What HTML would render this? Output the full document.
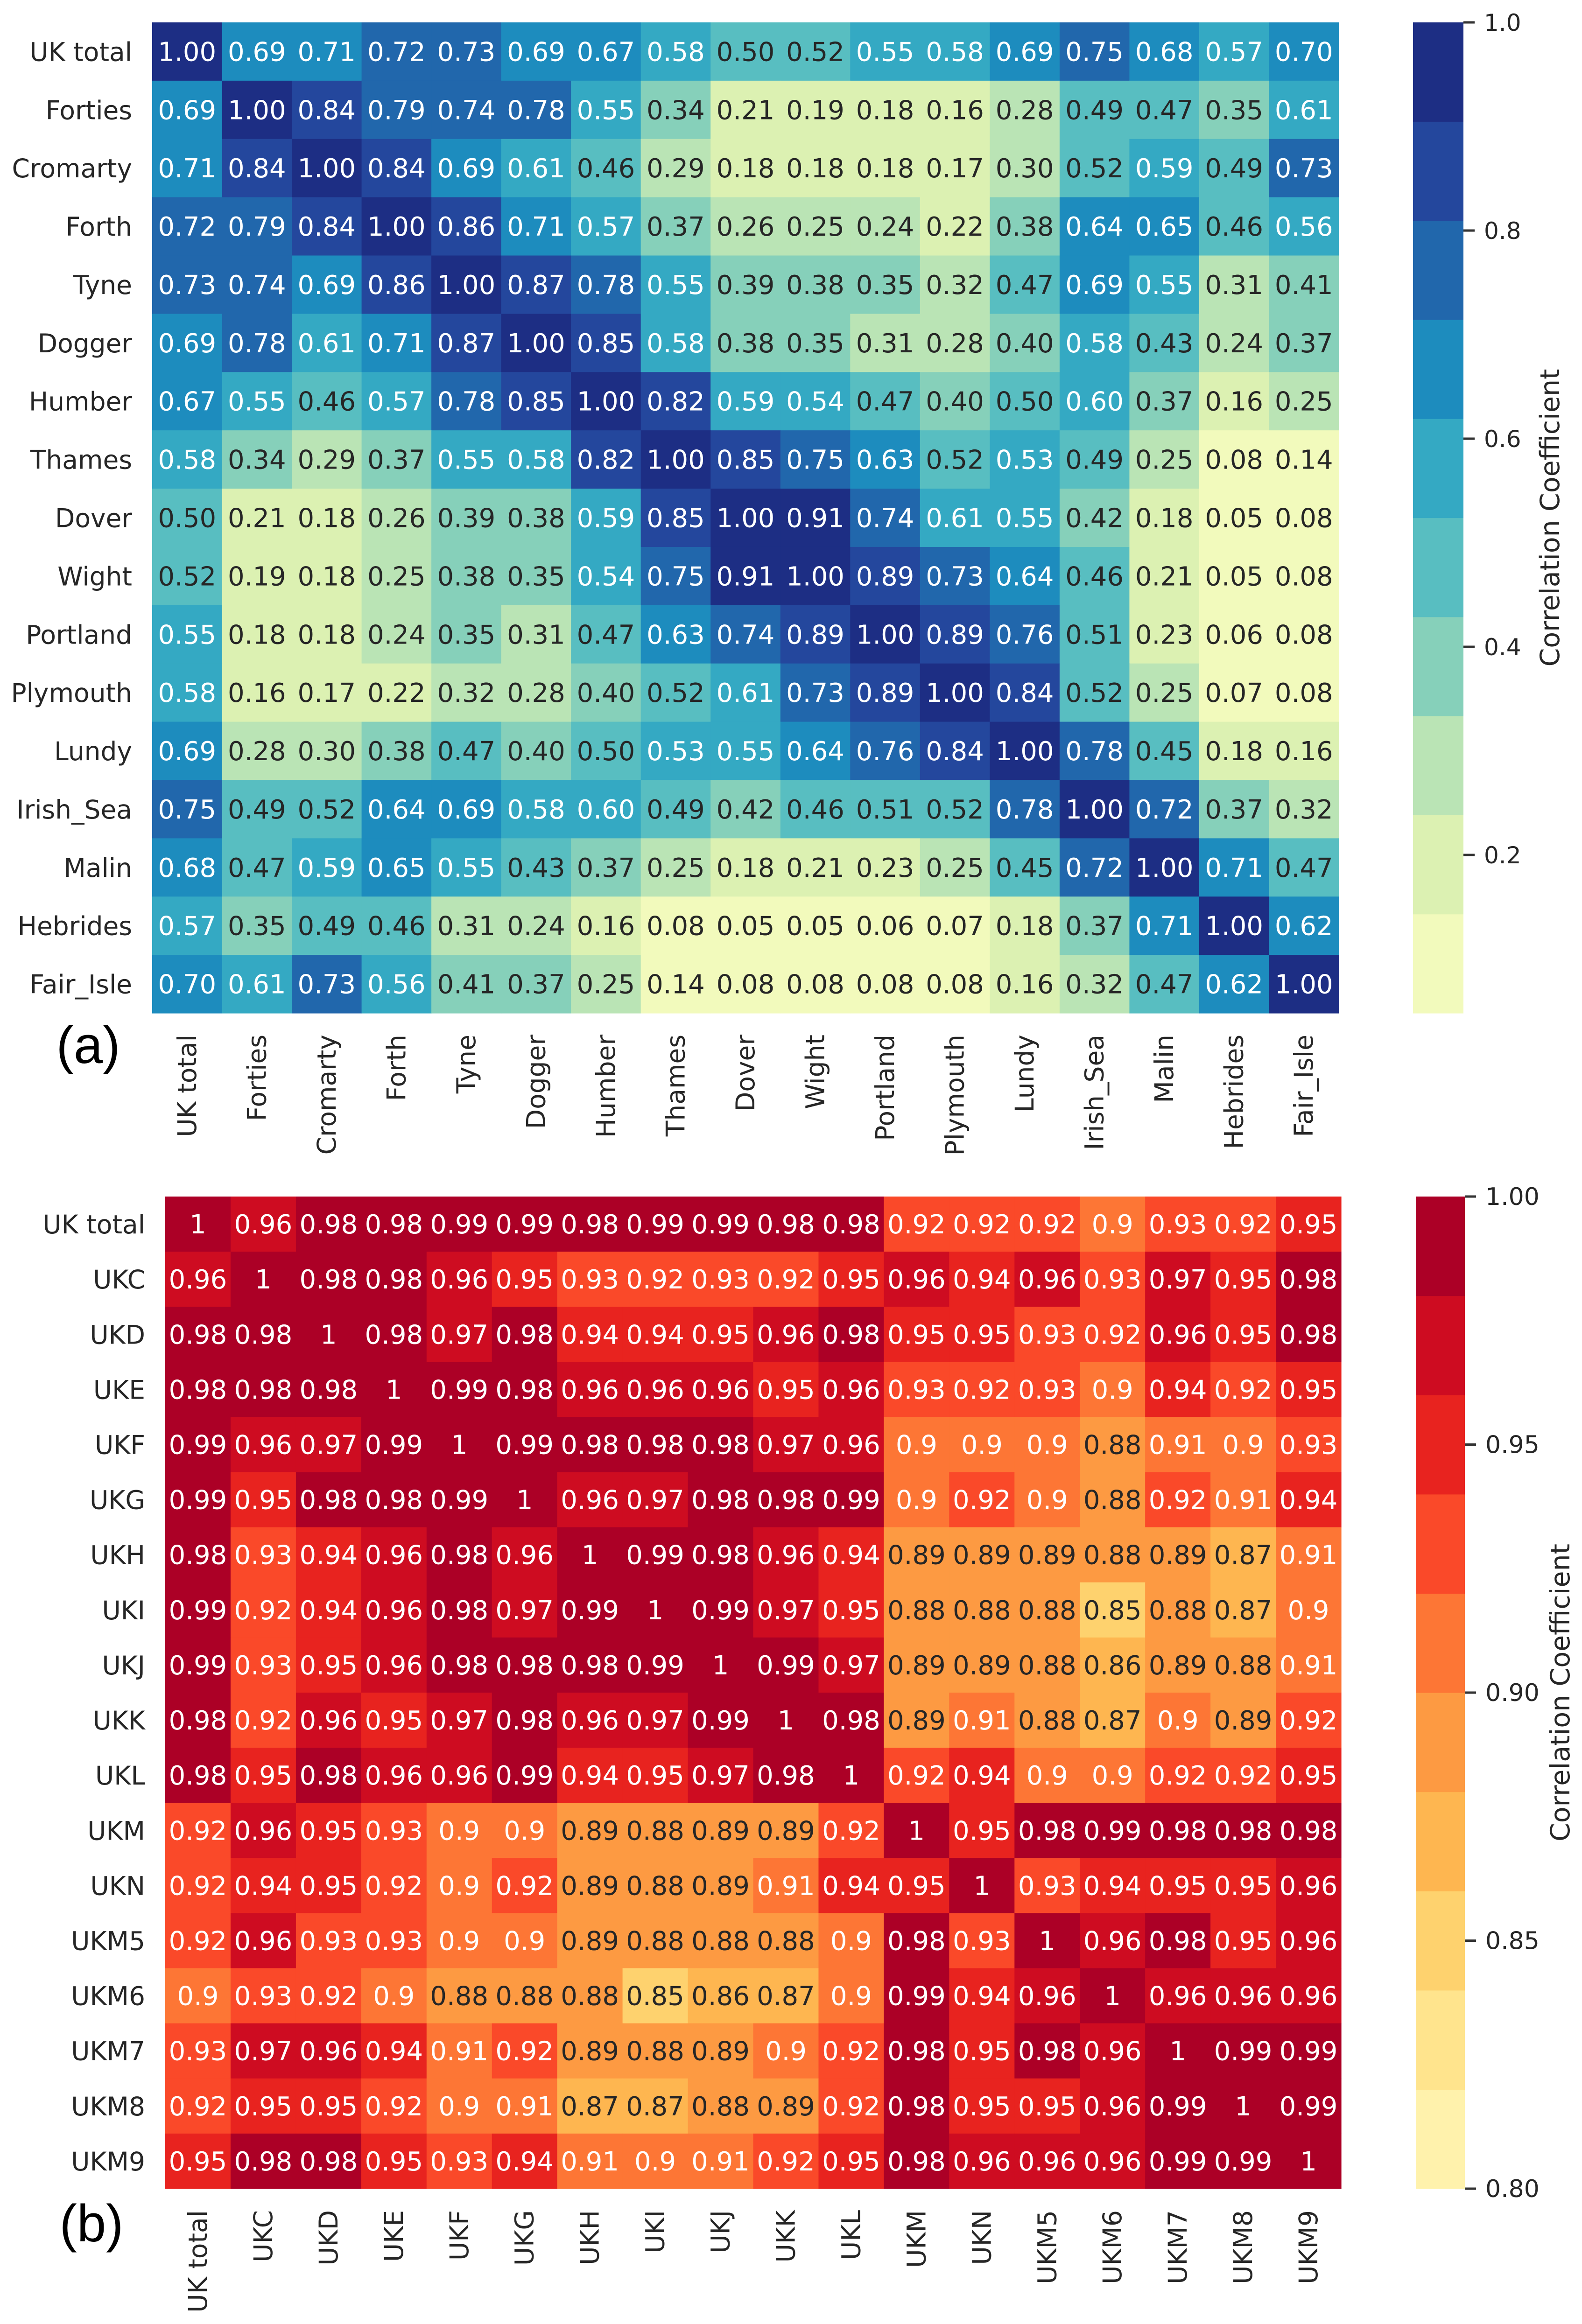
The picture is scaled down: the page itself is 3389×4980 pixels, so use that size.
<!DOCTYPE html>
<html><head><meta charset="utf-8">
<style>
html,body{margin:0;padding:0;background:#fff;}
svg{display:block;}
text{font-family:"DejaVu Sans","Liberation Sans",sans-serif;}
</style></head>
<body>
<svg id="fig" width="3389" height="4980" viewBox="0 0 3389 4980" xmlns="http://www.w3.org/2000/svg">
<rect width="3389" height="4980" fill="#fff"/>
<g id="panelA"></g>
<g id="panelB"></g>
<text x="189" y="2278" font-size="112" text-anchor="middle" fill="#000" style="font-family:'Liberation Sans',sans-serif">(a)</text>
<text x="196" y="4803" font-size="112" text-anchor="middle" fill="#000" style="font-family:'Liberation Sans',sans-serif">(b)</text>
</svg>
<script>
const labelsA = ["UK total","Forties","Cromarty","Forth","Tyne","Dogger","Humber","Thames","Dover","Wight","Portland","Plymouth","Lundy","Irish_Sea","Malin","Hebrides","Fair_Isle"];
const valuesA = [
[1.00,0.69,0.71,0.72,0.73,0.69,0.67,0.58,0.50,0.52,0.55,0.58,0.69,0.75,0.68,0.57,0.70],
[0.69,1.00,0.84,0.79,0.74,0.78,0.55,0.34,0.21,0.19,0.18,0.16,0.28,0.49,0.47,0.35,0.61],
[0.71,0.84,1.00,0.84,0.69,0.61,0.46,0.29,0.18,0.18,0.18,0.17,0.30,0.52,0.59,0.49,0.73],
[0.72,0.79,0.84,1.00,0.86,0.71,0.57,0.37,0.26,0.25,0.24,0.22,0.38,0.64,0.65,0.46,0.56],
[0.73,0.74,0.69,0.86,1.00,0.87,0.78,0.55,0.39,0.38,0.35,0.32,0.47,0.69,0.55,0.31,0.41],
[0.69,0.78,0.61,0.71,0.87,1.00,0.85,0.58,0.38,0.35,0.31,0.28,0.40,0.58,0.43,0.24,0.37],
[0.67,0.55,0.46,0.57,0.78,0.85,1.00,0.82,0.59,0.54,0.47,0.40,0.50,0.60,0.37,0.16,0.25],
[0.58,0.34,0.29,0.37,0.55,0.58,0.82,1.00,0.85,0.75,0.63,0.52,0.53,0.49,0.25,0.08,0.14],
[0.50,0.21,0.18,0.26,0.39,0.38,0.59,0.85,1.00,0.91,0.74,0.61,0.55,0.42,0.18,0.05,0.08],
[0.52,0.19,0.18,0.25,0.38,0.35,0.54,0.75,0.91,1.00,0.89,0.73,0.64,0.46,0.21,0.05,0.08],
[0.55,0.18,0.18,0.24,0.35,0.31,0.47,0.63,0.74,0.89,1.00,0.89,0.76,0.51,0.23,0.06,0.08],
[0.58,0.16,0.17,0.22,0.32,0.28,0.40,0.52,0.61,0.73,0.89,1.00,0.84,0.52,0.25,0.07,0.08],
[0.69,0.28,0.30,0.38,0.47,0.40,0.50,0.53,0.55,0.64,0.76,0.84,1.00,0.78,0.45,0.18,0.16],
[0.75,0.49,0.52,0.64,0.69,0.58,0.60,0.49,0.42,0.46,0.51,0.52,0.78,1.00,0.72,0.37,0.32],
[0.68,0.47,0.59,0.65,0.55,0.43,0.37,0.25,0.18,0.21,0.23,0.25,0.45,0.72,1.00,0.71,0.47],
[0.57,0.35,0.49,0.46,0.31,0.24,0.16,0.08,0.05,0.05,0.06,0.07,0.18,0.37,0.71,1.00,0.62],
[0.70,0.61,0.73,0.56,0.41,0.37,0.25,0.14,0.08,0.08,0.08,0.08,0.16,0.32,0.47,0.62,1.00]];
const ticksA = [0.2,0.4,0.6,0.8,1.0];
const tickLabelsA = ["0.2","0.4","0.6","0.8","1.0"];

const labelsB = ["UK total","UKC","UKD","UKE","UKF","UKG","UKH","UKI","UKJ","UKK","UKL","UKM","UKN","UKM5","UKM6","UKM7","UKM8","UKM9"];
const valuesB = [
[1,.96,.98,.98,.99,.99,.98,.99,.99,.98,.98,.92,.92,.92,.9,.93,.92,.95],
[.96,1,.98,.98,.96,.95,.93,.92,.93,.92,.95,.96,.94,.96,.93,.97,.95,.98],
[.98,.98,1,.98,.97,.98,.94,.94,.95,.96,.98,.95,.95,.93,.92,.96,.95,.98],
[.98,.98,.98,1,.99,.98,.96,.96,.96,.95,.96,.93,.92,.93,.9,.94,.92,.95],
[.99,.96,.97,.99,1,.99,.98,.98,.98,.97,.96,.9,.9,.9,.88,.91,.9,.93],
[.99,.95,.98,.98,.99,1,.96,.97,.98,.98,.99,.9,.92,.9,.88,.92,.91,.94],
[.98,.93,.94,.96,.98,.96,1,.99,.98,.96,.94,.89,.89,.89,.88,.89,.87,.91],
[.99,.92,.94,.96,.98,.97,.99,1,.99,.97,.95,.88,.88,.88,.85,.88,.87,.9],
[.99,.93,.95,.96,.98,.98,.98,.99,1,.99,.97,.89,.89,.88,.86,.89,.88,.91],
[.98,.92,.96,.95,.97,.98,.96,.97,.99,1,.98,.89,.91,.88,.87,.9,.89,.92],
[.98,.95,.98,.96,.96,.99,.94,.95,.97,.98,1,.92,.94,.9,.9,.92,.92,.95],
[.92,.96,.95,.93,.9,.9,.89,.88,.89,.89,.92,1,.95,.98,.99,.98,.98,.98],
[.92,.94,.95,.92,.9,.92,.89,.88,.89,.91,.94,.95,1,.93,.94,.95,.95,.96],
[.92,.96,.93,.93,.9,.9,.89,.88,.88,.88,.9,.98,.93,1,.96,.98,.95,.96],
[.9,.93,.92,.9,.88,.88,.88,.85,.86,.87,.9,.99,.94,.96,1,.96,.96,.96],
[.93,.97,.96,.94,.91,.92,.89,.88,.89,.9,.92,.98,.95,.98,.96,1,.99,.99],
[.92,.95,.95,.92,.9,.91,.87,.87,.88,.89,.92,.98,.95,.95,.96,.99,1,.99],
[.95,.98,.98,.95,.93,.94,.91,.9,.91,.92,.95,.98,.96,.96,.96,.99,.99,1]];
const ticksB = [0.80,0.85,0.90,0.95,1.00];
const tickLabelsB = ["0.80","0.85","0.90","0.95","1.00"];

const YLGNBU = ["#ffffd9","#edf8b1","#c7e9b4","#7fcdbb","#41b6c4","#1d91c0","#225ea8","#253494","#081d58"];
const YLORRD = ["#ffffcc","#ffeda0","#fed976","#feb24c","#fd8d3c","#fc4e2a","#e31a1c","#bd0026","#800026"];
const NS = "http://www.w3.org/2000/svg";

function hex2rgb(h){return [1,3,5].map(i=>parseInt(h.substr(i,2),16));}
function sampleMap(anchors,t){
  const n=anchors.length-1, p=t*n, i=Math.min(Math.floor(p),n-1), f=p-i;
  const a=hex2rgb(anchors[i]), b=hex2rgb(anchors[i+1]);
  return a.map((v,k)=>Math.round(v+(b[k]-v)*f));
}
function palette(anchors,n){const out=[];for(let k=1;k<=n;k++)out.push(sampleMap(anchors,k/(n+1)));return out;}
function lum(rgb){const c=rgb.map(v=>{v/=255;return v<=0.03928?v/12.92:Math.pow((v+0.055)/1.055,2.4);});return 0.2126*c[0]+0.7152*c[1]+0.0722*c[2];}
function css(rgb){return "rgb("+rgb.join(",")+")";}
function mk(tag,attrs,parent){const e=document.createElementNS(NS,tag);for(const k in attrs)e.setAttribute(k,attrs[k]);parent.appendChild(e);return e;}

function drawHeatmap(g,cfg){
  const {labels,values,x0,y0,x1,y1,vmin,vmax,pal,fmt,cbx0,cbx1,ticks,tickLabels,prefix,tickFont,titleX}=cfg;
  const n=labels.length, cw=(x1-x0)/n, ch=(y1-y0)/n, nb=pal.length;
  const xScale=i=>x0+i*cw, yScale=i=>y0+i*ch;
  const band=v=>Math.max(0,Math.min(nb-1,Math.floor((v-vmin)/(vmax-vmin)*nb+1e-6)));
  for(let r=0;r<n;r++){
    for(let c=0;c<n;c++){
      const v=values[r][c], col=pal[band(v)];
      const rect=mk("rect",{x:xScale(c),y:yScale(r),width:cw+0.6,height:ch+0.6,fill:css(col)},g);
      
      
      const t=mk("text",{x:xScale(c)+cw/2,y:yScale(r)+ch/2+20,"font-size":56,"text-anchor":"middle",fill:lum(col)>0.408?"#262626":"#fff"},g);
      t.textContent=fmt(v);
      
      
    }
    const yl=mk("text",{x:x0-43,y:yScale(r)+ch/2+20,"font-size":55,"text-anchor":"end",fill:"#262626"},g);
    yl.textContent=labels[r];
    
    
    const cx=xScale(r)+cw/2+19, ty=y1+46;
    const xl=mk("text",{x:cx,y:ty,"font-size":55,"text-anchor":"end",fill:"#262626",transform:"rotate(-90 "+cx+" "+ty+")"},g);
    xl.textContent=labels[r];
    
    
  }
  const cbScale=v=>y1-(v-vmin)/(vmax-vmin)*(y1-y0);
  for(let k=0;k<nb;k++){
    const va=vmin+k*(vmax-vmin)/nb, vb=vmin+(k+1)*(vmax-vmin)/nb;
    const r=mk("rect",{x:cbx0,y:cbScale(vb),width:cbx1-cbx0,height:cbScale(va)-cbScale(vb)+0.6,fill:css(pal[k])},g);
    
    
  }
  ticks.forEach((tv,i)=>{
    const y=cbScale(tv);
    const tl=mk("line",{x1:cbx1,x2:cbx1+24,y1:y,y2:y,stroke:"#333",'stroke-width':5},g);
    
    
    const tt=mk("text",{x:cbx1+44,y:y+18,"font-size":tickFont,fill:"#262626"},g);
    tt.textContent=tickLabels[i];
    
    
  });
  const lx=titleX, ly=(y0+y1)/2;
  const lab=mk("text",{x:lx,y:ly,"font-size":57,"text-anchor":"middle",fill:"#262626",transform:"rotate(-90 "+lx+" "+ly+")"},g);
  lab.textContent="Correlation Coefficient";
  
  
}

drawHeatmap(document.getElementById("panelA"),{labels:labelsA,values:valuesA,x0:326,y0:48,x1:2868,y1:2171,vmin:0.048,vmax:1.0,
  pal:palette(YLGNBU,10),fmt:v=>v.toFixed(2),cbx0:3027,cbx1:3135,ticks:ticksA,tickLabels:tickLabelsA,prefix:"a",tickFont:50,titleX:3340});
drawHeatmap(document.getElementById("panelB"),{labels:labelsB,values:valuesB,x0:354,y0:2564,x1:2873,y1:4690,vmin:0.80,vmax:1.0,
  pal:palette(YLORRD,10),fmt:v=>String(v),cbx0:3033,cbx1:3138,ticks:ticksB,tickLabels:tickLabelsB,prefix:"b",tickFont:52,titleX:3362});
</script>
</body></html>
